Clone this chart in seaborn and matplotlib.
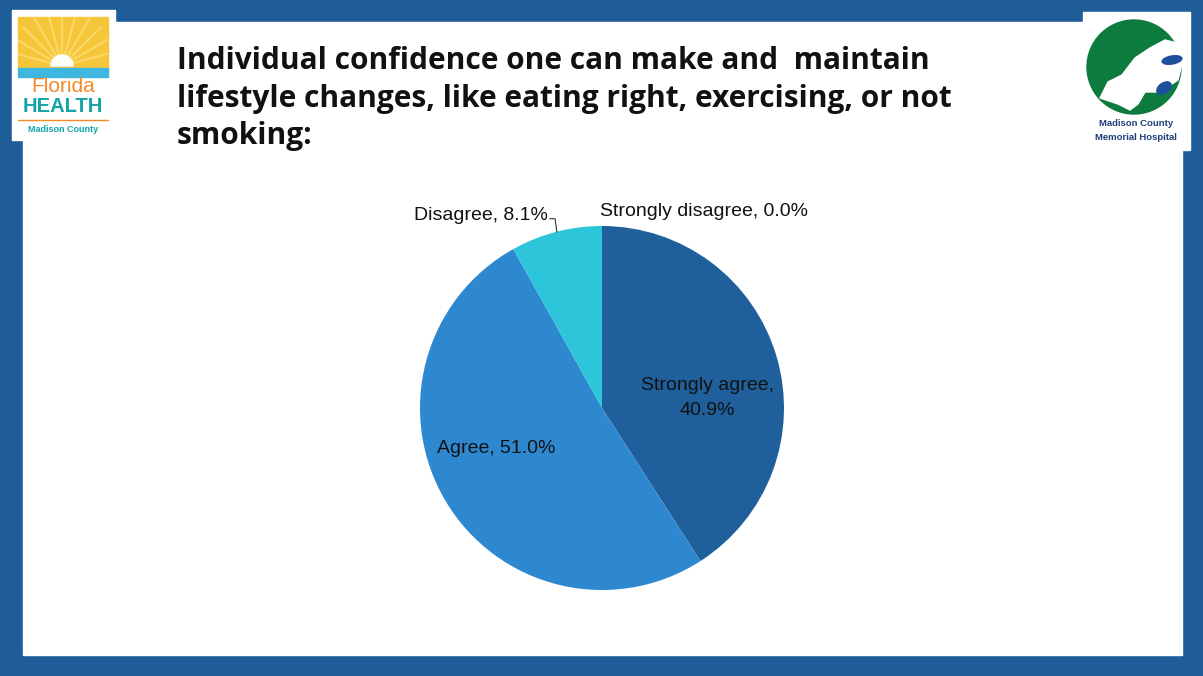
import matplotlib
matplotlib.use("Agg")
import matplotlib.pyplot as plt
from matplotlib.patches import Rectangle, Circle, Wedge, Polygon, Ellipse
import seaborn as sns
import numpy as np

# Survey responses (percent of respondents)
categories = ["Strongly agree", "Agree", "Disagree", "Strongly disagree"]
values = [40.9, 51.0, 8.1, 0.0]
slice_colors = ["#1f5f9b", "#2e88d0", "#2cc5d9", "#1a4f86"]

title_lines = [
    "Individual confidence one can make and  maintain",
    "lifestyle changes, like eating right, exercising, or not",
    "smoking:",
]

sns.set_theme(style="white")
plt.rcParams["font.family"] = ["Liberation Sans", "DejaVu Sans"]

W, H = 1203, 676
fig = plt.figure(figsize=(W / 100, H / 100), dpi=100)
fig.patch.set_facecolor("#1e5d98")

# Slide canvas in pixel coordinates
bg = fig.add_axes([0, 0, 1, 1])
bg.set_xlim(0, W)
bg.set_ylim(H, 0)
bg.axis("off")
bg.add_patch(Rectangle((0, 0), W, H, color="#1e5d98", zorder=0))
bg.add_patch(Rectangle((23, 22), 1159, 633, color="white", zorder=1))

# Left logo: Florida Health
bg.add_patch(Rectangle((12, 10), 103, 130, color="white", zorder=2))
sun_box = Rectangle((18, 17), 90, 52, color="#f6c63a", zorder=3)
bg.add_patch(sun_box)
for ang in np.linspace(15, 165, 11):
    a = np.deg2rad(ang)
    ray, = bg.plot([62 + 12 * np.cos(a), 62 + 55 * np.cos(a)],
                   [66 - 12 * np.sin(a), 66 - 55 * np.sin(a)],
                   color="#f9d865", lw=1.6, zorder=3.5)
    ray.set_clip_path(sun_box)
bg.add_patch(Wedge((62, 66), 11, 180, 360, color="white", zorder=4))
bg.add_patch(Rectangle((18, 68), 90, 9, color="#3eb6e0", zorder=3))
bg.text(63, 87, "Florida", ha="center", va="center", fontsize=15,
        color="#f4892a", zorder=5)
bg.text(63, 107, "HEALTH", ha="center", va="center", fontsize=14.5,
        color="#13a3a8", weight="bold", zorder=5)
bg.plot([18, 108], [120, 120], color="#f4892a", lw=1, zorder=5)
bg.text(63, 130, "Madison County", ha="center", va="center", fontsize=6.5,
        color="#13a3a8", weight="bold", zorder=5)

# Right logo: Madison County Memorial Hospital
bg.add_patch(Rectangle((1083, 12), 107, 138, color="white", zorder=2))
bg.add_patch(Circle((1134, 67), 47, color="#0d7a3e", zorder=3))
tree = Polygon([(1100, 98), (1108, 82), (1122, 75), (1135, 58), (1150, 48),
                (1165, 40), (1181, 44), (1183, 60), (1178, 80), (1160, 92),
                (1145, 92), (1138, 104), (1130, 110), (1118, 104)],
               closed=True, color="white", zorder=4)
bg.add_patch(tree)
bg.add_patch(Ellipse((1172, 60), 20, 8, angle=-10, color="#1d4f9c", zorder=5))
bg.add_patch(Ellipse((1164, 88), 16, 10, angle=-35, color="#1d4f9c", zorder=5))
bg.text(1136, 124, "Madison County", ha="center", va="center", fontsize=6.8,
        color="#1f3f78", weight="bold", zorder=5)
bg.text(1136, 137, "Memorial Hospital", ha="center", va="center", fontsize=6.8,
        color="#1f3f78", weight="bold", zorder=5)

# Title
for i, line in enumerate(title_lines):
    bg.text(177, 61 + 37.5 * i, line, ha="left", va="center", fontsize=21.5,
            weight="bold", family="Open Sans", color="#111111", zorder=5)

# Pie chart
cx, cy, r = 602, 408, 182
ax = fig.add_axes([(cx - r) / W, (H - cy - r) / H, 2 * r / W, 2 * r / H])
ax.set_zorder(3)
ax.pie(values, colors=slice_colors, startangle=90, counterclock=False,
       radius=1.0, wedgeprops=dict(linewidth=0))
ax.set_xlim(-1, 1)
ax.set_ylim(-1, 1)
ax.set_aspect("equal")
ax.axis("off")

labels = [f"{c}, {v:.1f}%" for c, v in zip(categories, values)]
lab_kw = dict(fontsize=14, color="#111111", zorder=6, clip_on=False)
ax.text(0.577, 0.055, labels[0].replace(", ", ",\n"), ha="center", va="center",
        multialignment="center", linespacing=1.6, **lab_kw)
ax.text(-0.582, -0.225, labels[1], ha="center", va="center", **lab_kw)
ax.text(-0.30, 1.06, labels[2], ha="right", va="center", **lab_kw)
ax.text(-0.01, 1.077, labels[3], ha="left", va="center", **lab_kw)
# Leader line for the thin slice
ax.plot([-0.287, -0.258, -0.248], [1.04, 1.04, 0.967], color="#333333",
        lw=0.8, clip_on=False, zorder=6)

fig.savefig("out.png", dpi=100, facecolor=fig.get_facecolor())
